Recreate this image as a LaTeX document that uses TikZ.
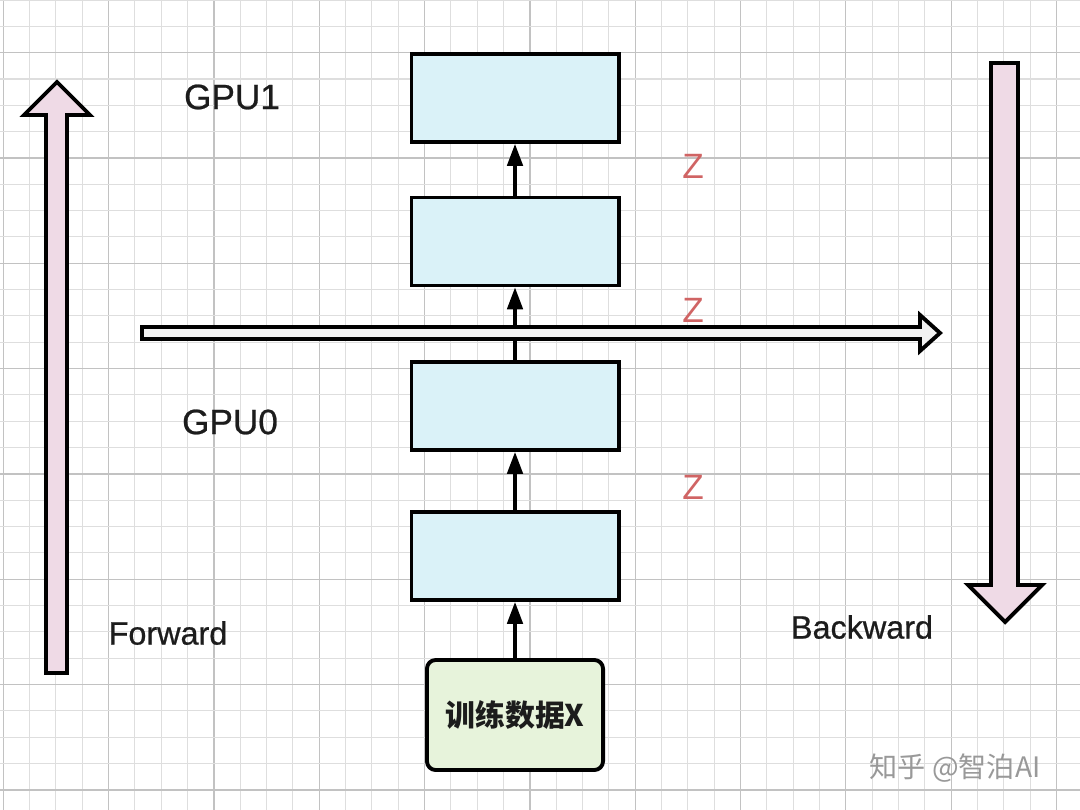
\documentclass[tikz,border=0pt]{standalone}
\usepackage{fontspec}
\setmainfont{Liberation Sans}
\newfontfamily\labelfont{Liberation Sans}[FakeBold=0.7]
\newfontfamily\cjk{Noto Sans CJK SC}
\usetikzlibrary{arrows.meta}

\definecolor{gridminor}{HTML}{DEDEDE}
\definecolor{gridmajor}{HTML}{C2C2C2}
\definecolor{layerblue}{HTML}{DAF2F8}
\definecolor{datagreen}{HTML}{E7F3DB}
\definecolor{passpink}{HTML}{EFDAE6}
\definecolor{splitgray}{HTML}{F2F2F2}
\definecolor{zred}{HTML}{D06464}
\definecolor{inktext}{HTML}{1C1C1C}

\newcommand{\gridstep}{26.33}
\newcommand{\forwardarrow}{%
    (46,673) -- (46,115) -- (24,115) -- (57,82) -- (90,115) -- (67,115)
    -- (67,673) -- cycle
}
\newcommand{\backwardarrow}{%
    (991,63) -- (991,585) -- (968,585) -- (1005,622) -- (1042,585)
    -- (1018,585) -- (1018,63) -- cycle
}
\newcommand{\splitarrow}{%
    (142,327) -- (920,327) -- (920,315) -- (940,333) -- (920,351)
    -- (920,339) -- (142,339) -- cycle
}

\tikzset{
    layer/.style={draw=black,line width=1.1pt,fill=layerblue,
        minimum width=2.07cm,minimum height=0.88cm,inner sep=0pt},
    databox/.style={draw=black,line width=1.1pt,fill=datagreen,rounded corners=2.5pt,
        minimum width=1.76cm,minimum height=1.10cm,inner sep=0pt,
        font=\cjk\bfseries\fontsize{8.5}{10}\selectfont,text=inktext},
    gpulabel/.style={font=\labelfont\fontsize{10}{12}\selectfont,text=inktext},
    passlabel/.style={font=\labelfont\fontsize{9.2}{11}\selectfont,text=inktext},
    zlabel/.style={font=\fontsize{10}{12}\selectfont,text=zred},
    bigarrow/.style={draw=black,line width=1.1pt,line join=miter},
    link/.style={line width=0.9pt,->}
}

\begin{document}
\begin{tikzpicture}[x=0.01cm,y=-0.01cm,>={Triangle[length=6.2pt,width=4.4pt]}]

\useasboundingbox (0,0) rectangle (1080,810);
\fill[white] (0,0) rectangle (1080,810);

% grid paper
\foreach \k in {0,...,41}{
    \pgfmathsetmacro{\gx}{3.3+\gridstep*\k}
    \pgfmathtruncatemacro{\gm}{mod(\k,4)}
    \ifnum\gm=0
        \draw[gridmajor,line width=0.35pt] (\gx,0) -- (\gx,810);
    \else
        \draw[gridminor,line width=0.3pt] (\gx,0) -- (\gx,810);
    \fi
}
\foreach \k in {0,...,31}{
    \pgfmathsetmacro{\gy}{\gridstep*\k}
    \pgfmathtruncatemacro{\gm}{mod(\k,4)}
    \ifnum\gm=2
        \draw[gridmajor,line width=0.35pt] (0,\gy) -- (1080,\gy);
    \else
        \draw[gridminor,line width=0.3pt] (0,\gy) -- (1080,\gy);
    \fi
}

% forward / backward passes
\fill[passpink] \forwardarrow;
\draw[bigarrow] \forwardarrow;
\fill[passpink] \backwardarrow;
\draw[bigarrow] \backwardarrow;

% layers, bottom to top
\node[databox] (data) at (515,715) {训练数据X};
\node[layer] (L1) at (515,556) {};
\node[layer] (L2) at (515,406) {};
\node[layer] (L3) at (515,241.5) {};
\node[layer] (L4) at (515,98) {};

% activations flowing up
\draw[link] (data) -- (L1);
\draw[link] (L1) -- (L2);
\draw[link] (L2) -- (L3);
\draw[link] (L3) -- (L4);

% split between the two GPUs
\fill[splitgray] \splitarrow;
\draw[bigarrow] \splitarrow;

% labels
\node[gpulabel] (gpu1) at (232,97) {GPU1};
\node[gpulabel] (gpu0) at (230,422) {GPU0};
\node[passlabel] (fwd) at (168,633) {Forward};
\node[passlabel] (bwd) at (862,627) {Backward};
\node[zlabel] (z1) at (693,166) {Z};
\node[zlabel] (z2) at (693,310) {Z};
\node[zlabel] (z3) at (693,487) {Z};
\node[font=\cjk\fontsize{8}{10}\selectfont,text=black!40] (mark) at (955,768) {知乎 @智泊AI};

\end{tikzpicture}
\end{document}
